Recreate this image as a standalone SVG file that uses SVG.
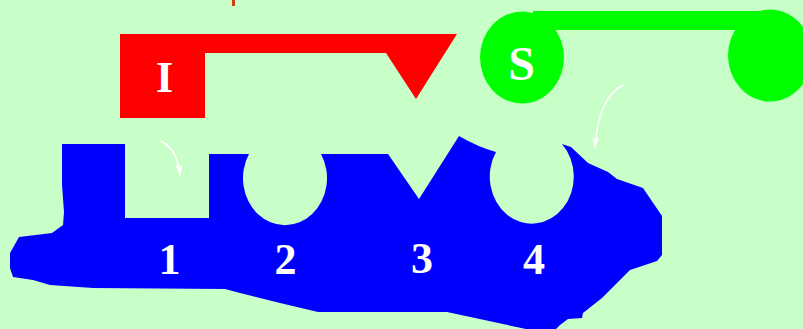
<svg xmlns="http://www.w3.org/2000/svg" width="803" height="329" viewBox="0 0 803 329">
<defs>
<style>
.lbl{font-family:"Liberation Serif","Times New Roman",serif;font-weight:bold;fill:#FFFFFF;text-anchor:middle}
.arr{fill:none;stroke:#FFFFFF;stroke-width:1.5}
</style>
<marker id="ah" markerUnits="userSpaceOnUse" markerWidth="14" markerHeight="10" viewBox="-12 -5 14 10" refX="0" refY="0" orient="auto">
<path d="M0,0 L-11,-3.5 L-8,0 L-11,3.5 Z" fill="#FFFFFF"/>
</marker>
</defs>
<rect x="0" y="0" width="803" height="329" fill="#C8FFC8"/>
<rect x="232" y="0" width="3" height="6" fill="#D04010"/>
<g id="blue-body">
<path fill="#0000FF" d="M62,144 L125,144 L125,218 L209,218 L209,154 L249,154 A42 47 0 1 0 321,154 L388,154 L419,199 L459,136 Q478,147 496,152 A42 47 0 1 0 562,144 L571,147 L588,163 L608,172 L617,179 L643,188 L662,216 L662,255 L657,261 L630,270 L602,298 L583,313 L582,318 L568,319 L560,325 L556,329 L526,329 L447,312 L318,312 L280,303 L240,293 L225,289 L93,288 L50,285 L33,280 L13,277 L10,268 L10,253 L19,237 L52,233 L63,225 L64,212 L62,185 Z"/>
<text class="lbl" x="169.5" y="274" font-size="44">1</text>
<text class="lbl" x="285.5" y="274" font-size="44">2</text>
<text class="lbl" x="422" y="273" font-size="44">3</text>
<text class="lbl" x="534" y="274" font-size="44">4</text>
</g>
<g id="node-I">
<path fill="#FF0000" d="M120,34 L457,34 L416,99 L386,53 L205,53 L205,118 L120,118 Z"/>
<text class="lbl" x="164.5" y="92" font-size="44">I</text>
</g>
<g id="node-S">
<rect x="533" y="11" width="237" height="19" fill="#00FF00"/>
<ellipse cx="770" cy="55.5" rx="42" ry="46" fill="#00FF00"/>
<ellipse cx="522" cy="57.5" rx="42" ry="46" fill="#00FF00"/>
<text class="lbl" x="521.5" y="80" font-size="48">S</text>
</g>
<g id="connectors">
<path class="arr" d="M161,141 Q178,150 180,176" marker-end="url(#ah)"/>
<path class="arr" d="M623,85 Q598,98 595,148" marker-end="url(#ah)"/>
</g>
</svg>
